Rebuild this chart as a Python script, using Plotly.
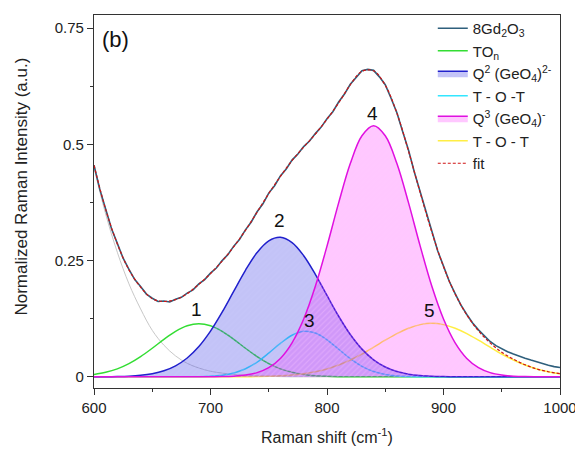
import plotly.graph_objects as go

# ---- data (Raman shift, cm^-1) ----
x10 = [600, 610, 620, 630, 640, 650, 660, 670, 680, 690,
       700, 710, 720, 730, 740, 750, 760, 770, 780, 790,
       800, 810, 820, 830, 840, 850, 860, 870, 880, 890,
       900, 910, 920, 930, 940, 950, 960, 970, 980, 990, 1000]

x5 = list(range(600, 1001, 5))

spectrum = [0.455, 0.403, 0.361, 0.319, 0.287, 0.255, 0.231, 0.209, 0.194, 0.178,
            0.169, 0.162, 0.163, 0.161, 0.167, 0.171, 0.180, 0.187, 0.200, 0.209,
            0.223, 0.234, 0.250, 0.263, 0.281, 0.296, 0.316, 0.333, 0.355, 0.372,
            0.395, 0.411, 0.432, 0.447, 0.466, 0.479, 0.495, 0.507, 0.523, 0.537,
            0.555, 0.570, 0.591, 0.608, 0.629, 0.644, 0.658, 0.661, 0.659, 0.645,
            0.628, 0.599, 0.568, 0.527, 0.487, 0.440, 0.398, 0.352, 0.312, 0.271,
            0.238, 0.205, 0.179, 0.154, 0.134, 0.116, 0.101, 0.088, 0.076, 0.067,
            0.060, 0.054, 0.049, 0.044, 0.040, 0.036, 0.032, 0.029, 0.025, 0.022, 0.020]

fit = [0.455, 0.360, 0.286, 0.230, 0.193, 0.168, 0.162, 0.166, 0.179, 0.199,
       0.222, 0.249, 0.280, 0.315, 0.354, 0.394, 0.431, 0.465, 0.494, 0.522,
       0.554, 0.589, 0.628, 0.657, 0.658, 0.627, 0.567, 0.485, 0.396, 0.311,
       0.237, 0.178, 0.133, 0.099, 0.073, 0.053, 0.038, 0.026, 0.017, 0.011, 0.007]

background = [0.450, 0.350, 0.268, 0.200, 0.146, 0.100, 0.068, 0.045, 0.029, 0.019,
              0.012, 0.008, 0.005, 0.003, 0.002, 0.001, 0.0005, 0.0, 0.0, 0.0,
              0.0, 0.0, 0.0, 0.0, 0.0, 0.0, 0.0, 0.0, 0.0, 0.0,
              0.0, 0.0, 0.0, 0.0, 0.0, 0.0, 0.0, 0.0, 0.0, 0.0, 0.0]

peak1 = [0.0050, 0.0097, 0.0172, 0.0284, 0.0435, 0.0615, 0.0806, 0.0977, 0.1097, 0.1140,
         0.1097, 0.0977, 0.0806, 0.0615, 0.0435, 0.0284, 0.0172, 0.0097, 0.0050, 0.0024,
         0.0011, 0.0004, 0.0002, 0.0001, 0.0, 0.0, 0.0, 0.0, 0.0, 0.0,
         0.0, 0.0, 0.0, 0.0, 0.0, 0.0, 0.0, 0.0, 0.0, 0.0, 0.0]

peak2 = [0.0001, 0.0002, 0.0006, 0.0014, 0.0032, 0.0067, 0.0130, 0.0237, 0.0406, 0.0652,
         0.0983, 0.1390, 0.1843, 0.2291, 0.2672, 0.2923, 0.2999, 0.2886, 0.2605, 0.2205,
         0.1750, 0.1303, 0.0910, 0.0596, 0.0366, 0.0211, 0.0114, 0.0058, 0.0027, 0.0012,
         0.0005, 0.0002, 0.0001, 0.0, 0.0, 0.0, 0.0, 0.0, 0.0, 0.0, 0.0]

peak3 = [0.0, 0.0, 0.0, 0.0, 0.0, 0.0, 0.0, 0.0, 0.0001, 0.0004,
         0.0013, 0.0036, 0.0084, 0.0175, 0.0318, 0.0510, 0.0720, 0.0894, 0.0978, 0.0941,
         0.0797, 0.0594, 0.0390, 0.0225, 0.0115, 0.0051, 0.0020, 0.0007, 0.0002, 0.0001,
         0.0, 0.0, 0.0, 0.0, 0.0, 0.0, 0.0, 0.0, 0.0, 0.0, 0.0]

peak4 = [0.0, 0.0, 0.0, 0.0, 0.0, 0.0, 0.0, 0.0, 0.0, 0.0,
         0.0002, 0.0005, 0.0015, 0.0039, 0.0091, 0.0198, 0.0396, 0.0731, 0.1243, 0.1946,
         0.2811, 0.3740, 0.4586, 0.5184, 0.5400, 0.5184, 0.4586, 0.3740, 0.2811, 0.1946,
         0.1243, 0.0731, 0.0396, 0.0198, 0.0091, 0.0039, 0.0015, 0.0005, 0.0002, 0.0001, 0.0]

peak5 = [0.0, 0.0, 0.0, 0.0, 0.0, 0.0, 0.0, 0.0, 0.0, 0.0,
         0.0, 0.0, 0.0001, 0.0003, 0.0006, 0.0011, 0.0021, 0.0038, 0.0066, 0.0108,
         0.0170, 0.0253, 0.0361, 0.0491, 0.0637, 0.0788, 0.0930, 0.1046, 0.1123, 0.1150,
         0.1123, 0.1046, 0.0930, 0.0788, 0.0637, 0.0491, 0.0361, 0.0253, 0.0170, 0.0108, 0.0066]

label_text = ["1", "2", "3", "4", "5"]
label_x = [688, 759, 785, 839, 888]
label_y = [0.145, 0.336, 0.121, 0.567, 0.142]

FONT = "Liberation Sans, Arial, sans-serif"

fig = go.Figure()

# background tail (not in legend)
fig.add_trace(go.Scatter(x=x10, y=background, mode="lines", line=dict(color="#c8c8c8", width=1, shape="spline"),
                         showlegend=False, hoverinfo="skip"))
# component lines (drawn under the translucent fills)
fig.add_trace(go.Scatter(x=x10, y=peak1, mode="lines", name="TO<sub>n</sub>", legendrank=2,
                         line=dict(color="#33dd33", width=1.5, shape="spline")))
fig.add_trace(go.Scatter(x=x10, y=peak3, mode="lines", name="T - O -T", legendrank=4,
                         line=dict(color="#33e6ff", width=1.5, shape="spline")))
fig.add_trace(go.Scatter(x=x10, y=peak5, mode="lines", name="T - O - T", legendrank=6,
                         line=dict(color="#ffee44", width=1.5, shape="spline")))
# filled components
fig.add_trace(go.Scatter(x=x10, y=peak2, mode="lines", name="Q<sup>2</sup> (GeO<sub>4</sub>)<sup>2-</sup>",
                         legendrank=3, fill="tozeroy",
                         fillcolor="rgba(60,60,230,0.31)",
                         fillpattern=dict(shape="/", bgcolor="rgba(60,60,230,0.31)",
                                          fgcolor="rgb(200,200,250)", fgopacity=0.3, size=4, solidity=0.25),
                         line=dict(color="#2020cc", width=1.5, shape="spline")))
fig.add_trace(go.Scatter(x=x10, y=peak4, mode="lines", name="Q<sup>3</sup> (GeO<sub>4</sub>)<sup>-</sup>",
                         legendrank=5, fill="tozeroy",
                         fillcolor="rgba(255,0,255,0.22)",
                         fillpattern=dict(shape="/", bgcolor="rgba(255,0,255,0.22)",
                                          fgcolor="rgb(255,200,255)", fgopacity=0.3, size=4, solidity=0.25),
                         line=dict(color="#e010e0", width=1.5, shape="spline")))
# measured spectrum and fit
fig.add_trace(go.Scatter(x=x5, y=spectrum, mode="lines", name="8Gd<sub>2</sub>O<sub>3</sub>", legendrank=1,
                         line=dict(color="#2e5f7c", width=1.6)))
fig.add_trace(go.Scatter(x=x10, y=fit, mode="lines", name="fit", legendrank=7,
                         line=dict(color="#d01515", width=1.2, dash="3px,2px", shape="spline")))

for t, lx, ly in zip(label_text, label_x, label_y):
    fig.add_annotation(x=lx, y=ly, text=t, showarrow=False,
                       font=dict(family=FONT, size=19, color="#111"))

fig.add_annotation(xref="paper", yref="paper", x=0.013, y=0.935, xanchor="left", yanchor="middle",
                   text="(b)", showarrow=False, font=dict(family=FONT, size=22, color="#111"))

# axis titles as paper annotations for exact placement
fig.add_annotation(xref="paper", yref="paper", x=0.5, y=-0.130, xanchor="center", yanchor="middle",
                   text="Raman shift (cm<sup>-1</sup>)", showarrow=False,
                   font=dict(family=FONT, size=16, color="#222"))
fig.add_annotation(xref="paper", yref="paper", x=-0.1545, y=0.54, xanchor="center", yanchor="middle",
                   text="Normalized Raman Intensity (a.u.)", textangle=-90, showarrow=False,
                   font=dict(family=FONT, size=17, color="#222"))

axis_common = dict(showline=True, mirror=True, linecolor="#333", linewidth=1.3,
                   ticks="outside", ticklen=6, tickwidth=1, tickcolor="#333",
                   showgrid=False, zeroline=False, automargin=False,
                   tickfont=dict(family=FONT, size=15, color="#222"))

fig.update_xaxes(range=[600, 1000], tickvals=[600, 700, 800, 900, 1000],
                 minor=dict(ticks="outside", ticklen=3, tickwidth=1, tickcolor="#333", dtick=50, tick0=600),
                 **axis_common)
fig.update_yaxes(range=[-0.024, 0.778], tickvals=[0, 0.25, 0.5, 0.75], ticktext=["0", "0.25", "0.5", "0.75"],
                 minor=dict(ticks="outside", ticklen=3, tickwidth=1, tickcolor="#333", dtick=0.125, tick0=0),
                 **axis_common)

# the page body adds an 8px margin, so the figure is 8px smaller than the window
fig.update_layout(
    width=575, height=444,
    margin=dict(l=86, r=23, t=4, b=64),
    paper_bgcolor="white", plot_bgcolor="white",
    showlegend=True,
    legend=dict(x=0.727, y=1.008, xanchor="left", yanchor="top",
                bgcolor="rgba(255,255,255,0)", borderwidth=0,
                font=dict(family=FONT, size=15, color="#222"),
                tracegroupgap=0, itemwidth=30),
)

fig.write_html("out.html")
